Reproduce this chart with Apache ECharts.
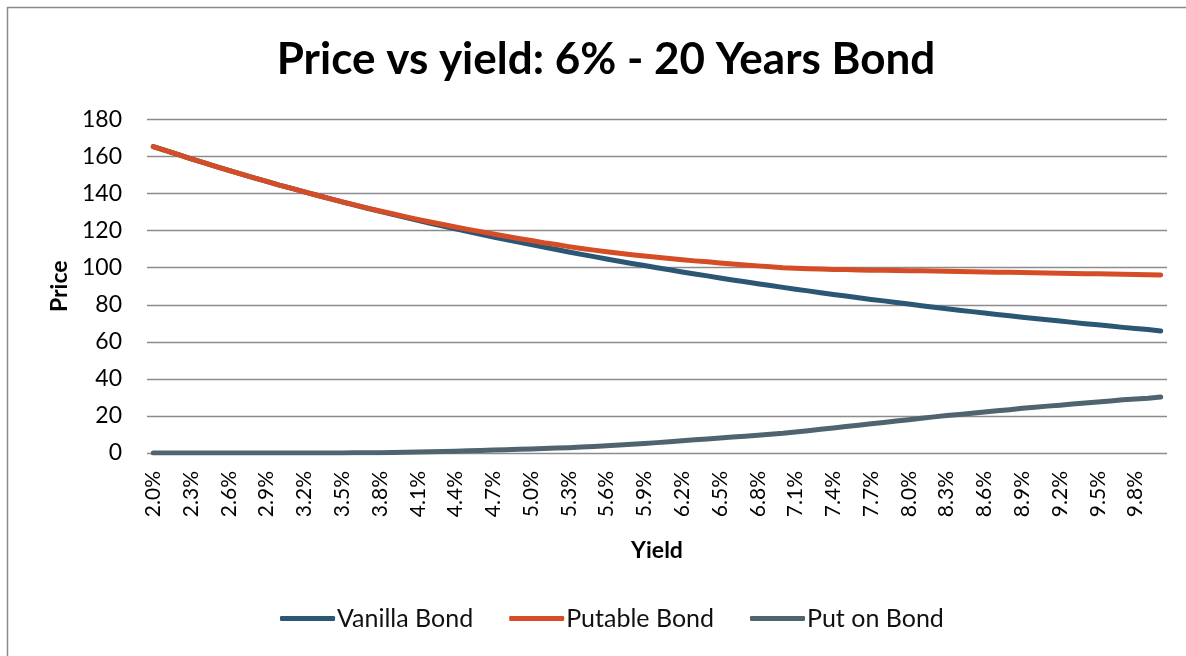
<!DOCTYPE html>
<html>
<head>
<meta charset="utf-8">
<title>Price vs yield</title>
<script src="https://cdn.jsdelivr.net/npm/echarts@6/dist/echarts.min.js"></script>
<style>
  html, body { margin: 0; padding: 0; background: #fff; }
  #chart { width: 1186px; height: 656px; }
</style>
</head>
<body>
<div id="chart"></div>
<script>
// yields 2.0% .. 10.0%, step 0.1%
const yields = [
  '2.0%','2.1%','2.2%','2.3%','2.4%','2.5%','2.6%','2.7%','2.8%','2.9%',
  '3.0%','3.1%','3.2%','3.3%','3.4%','3.5%','3.6%','3.7%','3.8%','3.9%',
  '4.0%','4.1%','4.2%','4.3%','4.4%','4.5%','4.6%','4.7%','4.8%','4.9%',
  '5.0%','5.1%','5.2%','5.3%','5.4%','5.5%','5.6%','5.7%','5.8%','5.9%',
  '6.0%','6.1%','6.2%','6.3%','6.4%','6.5%','6.6%','6.7%','6.8%','6.9%',
  '7.0%','7.1%','7.2%','7.3%','7.4%','7.5%','7.6%','7.7%','7.8%','7.9%',
  '8.0%','8.1%','8.2%','8.3%','8.4%','8.5%','8.6%','8.7%','8.8%','8.9%',
  '9.0%','9.1%','9.2%','9.3%','9.4%','9.5%','9.6%','9.7%','9.8%','9.9%',
  '10.0%'
]

const vanillaBond = [
  165.4, 163.2, 161.0, 158.8, 156.7, 154.6, 152.5, 150.5, 148.5, 146.6,
  144.6, 142.8, 140.9, 139.1, 137.3, 135.5, 133.8, 132.1, 130.4, 128.8,
  127.2, 125.6, 124.0, 122.5, 121.0, 119.5, 118.1, 116.6, 115.2, 113.8,
  112.5, 111.1, 109.8, 108.5, 107.2, 106.0, 104.7, 103.5, 102.3, 101.2,
  100.0, 98.9, 97.7, 96.6, 95.6, 94.5, 93.4, 92.4, 91.4, 90.4,
  89.4, 88.4, 87.5, 86.5, 85.6, 84.7, 83.8, 82.9, 82.1, 81.2,
  80.4, 79.5, 78.7, 77.9, 77.1, 76.3, 75.6, 74.8, 74.1, 73.3,
  72.6, 71.9, 71.2, 70.5, 69.8, 69.2, 68.5, 67.8, 67.2, 66.6,
  65.9
]

const putableBond = [
  165.4, 163.2, 161.0, 158.8, 156.7, 154.6, 152.5, 150.5, 148.5, 146.6,
  144.6, 142.8, 140.9, 139.1, 137.3, 135.5, 133.9, 132.2, 130.6, 129.1,
  127.6, 126.1, 124.7, 123.3, 122.0, 120.7, 119.5, 118.2, 117.0, 115.8,
  114.7, 113.5, 112.5, 111.4, 110.4, 109.5, 108.6, 107.8, 107.0, 106.3,
  105.6, 105.0, 104.3, 103.7, 103.2, 102.6, 102.0, 101.5, 101.0, 100.5,
  100.0, 99.7, 99.5, 99.3, 99.1, 99.0, 98.8, 98.7, 98.6, 98.5,
  98.4, 98.3, 98.2, 98.1, 97.9, 97.8, 97.7, 97.6, 97.5, 97.4,
  97.3, 97.2, 97.0, 96.9, 96.8, 96.7, 96.6, 96.5, 96.4, 96.2,
  96.1
]

const putOnBond = [
  0, 0, 0, 0, 0, 0, 0, 0, 0, 0,
  0, 0, 0, 0, 0, 0, 0.1, 0.1, 0.2, 0.3,
  0.4, 0.5, 0.7, 0.8, 1.0, 1.2, 1.4, 1.6, 1.8, 2.0,
  2.2, 2.4, 2.7, 2.9, 3.2, 3.5, 3.9, 4.3, 4.7, 5.1,
  5.6, 6.1, 6.6, 7.1, 7.6, 8.1, 8.6, 9.1, 9.6, 10.1,
  10.6, 11.3, 12.0, 12.8, 13.5, 14.3, 15.0, 15.8, 16.5, 17.3,
  18.0, 18.8, 19.5, 20.2, 20.8, 21.5, 22.1, 22.8, 23.4, 24.1,
  24.7, 25.3, 25.8, 26.4, 27.0, 27.5, 28.1, 28.7, 29.2, 29.6,
  30.2
]

const FONT = 'Lato, "Open Sans", sans-serif'

const chart = echarts.init(document.getElementById('chart'))

chart.setOption({
  animation: false,
  title: {
    text: 'Price vs yield: 6% - 20 Years Bond',
    left: 601,
    top: 33,
    textAlign: 'center',
    textStyle: { fontFamily: FONT, fontSize: 44, fontWeight: 'bold', color: '#000' }
  },
  graphic: [
    {
      type: 'rect',
      shape: { x: 7.5, y: 7.5, width: 1200, height: 700 },
      style: { fill: 'none', stroke: '#8a8a8a', lineWidth: 1.5 },
      silent: true
    }
  ],
  legend: {
    bottom: 20,
    left: 275,
    icon: 'roundRect',
    itemWidth: 55,
    itemHeight: 5,
    itemGap: 36,
    textStyle: { fontFamily: FONT, fontSize: 25, color: '#111', padding: [0, 0, 0, -3] },
    data: ['Vanilla Bond', 'Putable Bond', 'Put on Bond']
  },
  grid: { left: 147, right: 19, top: 119.5, bottom: 203, containLabel: false },
  xAxis: {
    type: 'category',
    data: yields,
    boundaryGap: true,
    name: 'Yield',
    nameLocation: 'middle',
    nameGap: 86,
    nameTextStyle: { fontFamily: FONT, fontSize: 23, fontWeight: 'bold', color: '#000' },
    axisLine: { show: false },
    axisTick: { show: false },
    axisLabel: {
      interval: 2,
      rotate: 90,
      margin: 18,
      fontFamily: FONT,
      fontSize: 21,
      color: '#000'
    }
  },
  yAxis: {
    type: 'value',
    min: 0,
    max: 180,
    interval: 20,
    name: 'Price',
    nameLocation: 'middle',
    nameGap: 76,
    nameTextStyle: { fontFamily: FONT, fontSize: 23, fontWeight: 'bold', color: '#000' },
    axisLine: { show: false },
    axisTick: { show: false },
    axisLabel: { margin: 25, fontFamily: FONT, fontSize: 23, color: '#000' },
    splitLine: { lineStyle: { color: '#8c8c8c', width: 1.3 } }
  },
  series: [
    {
      name: 'Vanilla Bond',
      type: 'line',
      data: vanillaBond,
      symbol: 'none',
      lineStyle: { width: 5, color: '#2b5674', cap: 'round', join: 'round' },
      itemStyle: { color: '#2b5674' }
    },
    {
      name: 'Putable Bond',
      type: 'line',
      data: putableBond,
      symbol: 'none',
      lineStyle: { width: 5, color: '#d54d26', cap: 'round', join: 'round' },
      itemStyle: { color: '#d54d26' }
    },
    {
      name: 'Put on Bond',
      type: 'line',
      data: putOnBond,
      symbol: 'none',
      lineStyle: { width: 5, color: '#4f646e', cap: 'round', join: 'round' },
      itemStyle: { color: '#4f646e' }
    }
  ]
})

window.addEventListener('resize', () => chart.resize())
</script>
</body>
</html>
